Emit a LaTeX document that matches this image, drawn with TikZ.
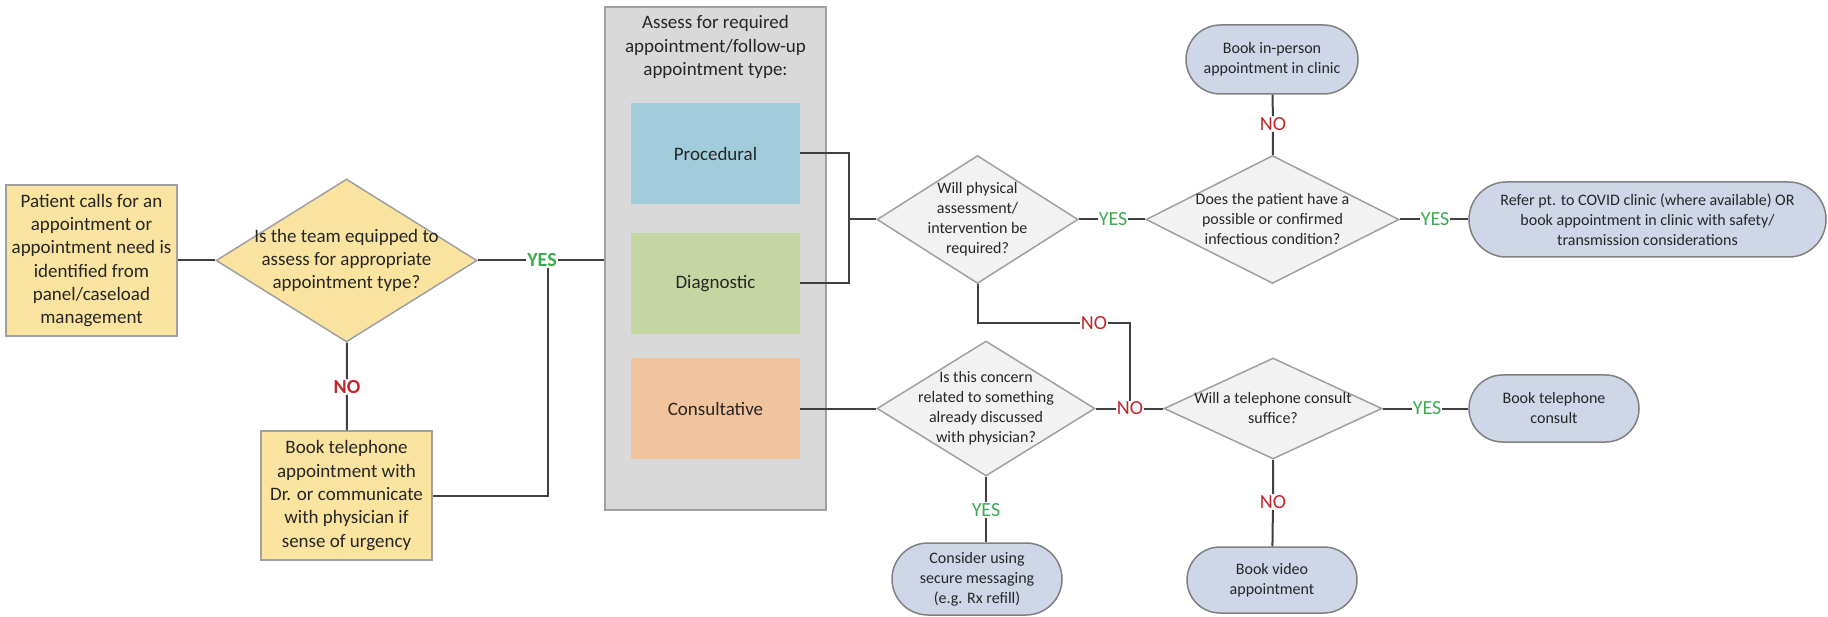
\documentclass[tikz,border=0pt]{standalone}
\usepackage{fontspec}
\setmainfont{Carlito}
\usepackage{tikz}
\usetikzlibrary{shapes.geometric}
\usetikzlibrary{shapes.misc}
\usetikzlibrary{positioning}

\definecolor{boxyellow}{HTML}{FBE4A0}
\definecolor{boxgray}{HTML}{D9D9D9}
\definecolor{procblue}{HTML}{A0CCDB}
\definecolor{diaggreen}{HTML}{C6D6A3}
\definecolor{consorange}{HTML}{F2C49E}
\definecolor{askgray}{HTML}{F2F2F2}
\definecolor{endblue}{HTML}{CFD6E8}
\definecolor{rimgray}{HTML}{A0A0A0}
\definecolor{wire}{HTML}{404040}
\definecolor{yesgreen}{HTML}{3CAA50}
\definecolor{nored}{HTML}{C0262C}
\definecolor{ink}{HTML}{262626}

\newcommand{\flowbig}{\fontsize{19}{23.3}\selectfont}
\newcommand{\flowsmall}{\fontsize{16}{20}\selectfont}
\newcommand{\flowlab}{\fontsize{20}{22}\selectfont}

\tikzset{
  every node/.style={text=ink, align=center},
  startbox/.style={draw=rimgray, fill=boxyellow, line width=1.5pt, inner sep=0pt, font=\flowbig},
  typebox/.style={inner sep=0pt, minimum width=169pt, minimum height=101pt, font=\flowbig},
  ask/.style={diamond, draw=rimgray, fill=askgray, line width=1.5pt, inner sep=0pt},
  endbox/.style={rounded rectangle, draw=gray, fill=endblue, line width=1.5pt, inner sep=0pt, font=\flowsmall},
  wire/.style={draw=wire, line width=2pt},
  yeslab/.style={text=yesgreen, inner sep=1pt, font=\flowlab},
  nolab/.style={text=nored, inner sep=1pt, font=\flowlab},
}

\begin{document}
\begin{tikzpicture}[x=1pt, y=-1pt]
    \useasboundingbox (0,0) rectangle (1828,617);

    % intake
    \node[startbox, minimum width=171pt, minimum height=151pt] (patient) at (91.5,260.5) {Patient calls for an\\appointment or\\appointment need is\\identified from\\panel/caseload\\management};
    \node[ask, fill=boxyellow, minimum width=261pt, minimum height=163pt] (teamq) at (346.5,260.5) {};
    \node[font=\flowbig] (teamqtxt) at (teamq) {Is the team equipped to\\assess for appropriate\\appointment type?};
    \node[startbox, minimum width=171pt, minimum height=129pt] (phonebook) at (346.5,495.5) {Book telephone\\appointment with\\Dr. or communicate\\with physician if\\sense of urgency};
    \node[nolab, font=\flowlab\bfseries] (no1) at (347,387) {NO};
    \node[yeslab, font=\flowlab\bfseries] (yes1) at (542,260.5) {YES};

    % appointment types
    \node[draw=rimgray, fill=boxgray, line width=1.5pt, minimum width=221pt, minimum height=503pt] (assess) at (715.5,258.5) {};
    \node[font=\flowbig] (assesstxt) at (715.5,47) {Assess for required\\appointment/follow-up\\appointment type:};
    \node[typebox, fill=procblue] (proc) at (715.5,153.5) {Procedural};
    \node[typebox, fill=diaggreen] (diag) at (715.5,283.5) {Diagnostic};
    \node[typebox, fill=consorange] (cons) at (715.5,408.5) {Consultative};
    \coordinate (joint) at (849,219.5);

    % in-person branch
    \node[ask, minimum width=201pt, minimum height=128pt] (physq) at (977.5,219.5) {};
    \node[font=\flowsmall] (physqtxt) at (physq) {Will physical\\assessment/\\intervention be\\required?};
    \node[ask, minimum width=253pt, minimum height=128pt] (infq) at (1272.5,219.5) {};
    \node[font=\flowsmall] (infqtxt) at (infq) {Does the patient have a\\possible or confirmed\\infectious condition?};
    \node[endbox, minimum width=172pt, minimum height=69pt] (inperson) at (1272,59.5) {Book in-person\\appointment in clinic};
    \node[endbox, minimum width=357pt, minimum height=75pt] (refer) at (1647.5,219.5) {Refer pt. to COVID clinic (where available) OR\\book appointment in clinic with safety/\\transmission considerations};
    \node[yeslab] (yes2) at (1113,219.5) {YES};
    \node[nolab] (no2) at (1273,124) {NO};
    \node[yeslab] (yes3) at (1435,219.5) {YES};

    % consult branch
    \node[ask, minimum width=218pt, minimum height=135pt] (concq) at (986,408.5) {};
    \node[font=\flowsmall] (concqtxt) at (concq) {Is this concern\\related to something\\already discussed\\with physician?};
    \node[ask, minimum width=218pt, minimum height=101pt] (phoneq) at (1273,408.5) {};
    \node[font=\flowsmall] (phoneqtxt) at (phoneq) {Will a telephone consult\\suffice?};
    \node[endbox, minimum width=170pt, minimum height=72pt] (secure) at (977,579) {Consider using\\secure messaging\\(e.g. Rx refill)};
    \node[endbox, minimum width=170pt, minimum height=67pt] (phonecons) at (1554,408.5) {Book telephone\\consult};
    \node[endbox, minimum width=170pt, minimum height=66pt] (video) at (1272,580) {Book video\\appointment};
    \node[nolab] (no3) at (1094,323) {NO};
    \node[nolab] (no4) at (1130,408.5) {NO};
    \node[yeslab] (yes4) at (986,510) {YES};
    \node[yeslab] (yes5) at (1427,408.5) {YES};
    \node[nolab] (no5) at (1273,502) {NO};

    \draw[wire] (patient) -- (teamq);
    \draw[wire] (teamq) -- (yes1) -- (yes1 -| assess.west);
    \draw[wire] (teamq) -- (no1) -- (phonebook);
    \draw[wire] (phonebook.east) -| ([xshift=6pt]yes1.south);
    \draw[wire] (proc.east) -| (joint) |- (diag.east);
    \draw[wire] (joint) -- (physq.west);
    \draw[wire] (physq) -- (yes2) -- (infq);
    \draw[wire] (infq) -- (no2) -- (inperson);
    \draw[wire] (infq) -- (yes3) -- (refer);
    \draw[wire] (physq.south) |- (no3);
    \draw[wire] (no3) -| (no4.north);
    \draw[wire] (cons.east) -- (concq.west);
    \draw[wire] (concq) -- (no4) -- (phoneq);
    \draw[wire] (concq) -- (yes4) -- (yes4 |- secure.north);
    \draw[wire] (phoneq) -- (yes5) -- (phonecons);
    \draw[wire] (phoneq) -- (no5) -- (video);
\end{tikzpicture}
\end{document}
